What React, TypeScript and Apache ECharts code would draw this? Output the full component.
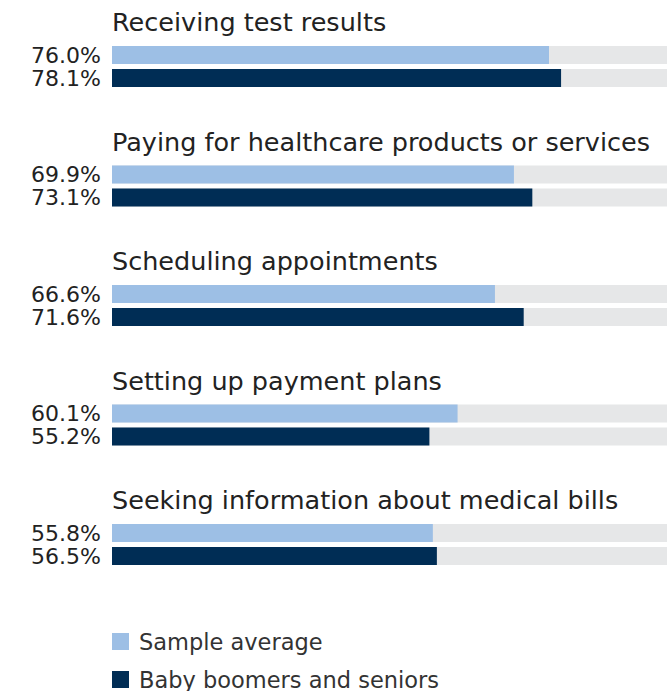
import React, { useEffect, useRef } from "react";
import * as echarts from "echarts";

const categories = [
  "Receiving test results",
  "Paying for healthcare products or services",
  "Scheduling appointments",
  "Setting up payment plans",
  "Seeking information about medical bills",
];
const seriesNames = ["Sample average", "Baby boomers and seniors"];
const sampleAverage = [76.0, 69.9, 66.6, 60.1, 55.8];
const boomers = [78.1, 73.1, 71.6, 55.2, 56.5];

const LIGHT = "#9dbfe5";
const NAVY = "#002d55";
const GRAY = "#e6e7e8";
const TEXT = "#222222";
const FONT = "'DejaVu Sans', sans-serif";

export default function App() {
  const ref = useRef<HTMLDivElement>(null);
  useEffect(() => {
    if (!ref.current) return;
    const chart = echarts.init(ref.current, undefined, { renderer: "svg" });
    const step = 119.5;
    const grids: any[] = [];
    const xAxes: any[] = [];
    const yAxes: any[] = [];
    const series: any[] = [];
    const graphics: any[] = [];
    const label = {
      show: true,
      position: "left",
      distance: 11,
      fontSize: 22,
      lineHeight: 20,
      fontFamily: FONT,
      color: TEXT,
      formatter: (p: any) => Number(p.value).toFixed(1) + "%",
    };
    categories.forEach((cat, i) => {
      grids.push({ left: 112, right: 0, top: 43.5 + step * i, height: 46 });
      xAxes.push({ type: "value", gridIndex: i, min: 0, max: (555 / 575) * 100, show: false });
      yAxes.push({ type: "category", gridIndex: i, inverse: true, show: false, data: seriesNames });
      series.push({
        type: "bar",
        name: "bg",
        xAxisIndex: i,
        yAxisIndex: i,
        barWidth: 18,
        barGap: "-100%",
        silent: true,
        itemStyle: { color: GRAY },
        data: [100, 100],
      });
      series.push({
        type: "bar",
        name: seriesNames[0],
        xAxisIndex: i,
        yAxisIndex: i,
        barWidth: 18,
        barGap: "-100%",
        itemStyle: { color: LIGHT },
        label,
        data: [sampleAverage[i], "-"],
      });
      series.push({
        type: "bar",
        name: seriesNames[1],
        xAxisIndex: i,
        yAxisIndex: i,
        barWidth: 18,
        barGap: "-100%",
        itemStyle: { color: NAVY },
        label,
        data: ["-", boomers[i]],
      });
      graphics.push({
        type: "text",
        x: 112,
        y: 22 + step * i,
        style: {
          text: cat,
          fontSize: 25.5,
          fontFamily: FONT,
          fill: TEXT,
          verticalAlign: "middle",
        },
      });
    });
    const legendText = { fontSize: 22.5, fontFamily: FONT, color: "#333", padding: [0, 0, 0, 5] };
    chart.setOption({
      animation: false,
      grid: grids,
      xAxis: xAxes,
      yAxis: yAxes,
      series,
      graphic: graphics,
      legend: [0, 1].map((k) => ({
        data: [seriesNames[k]],
        left: 112,
        top: 630 + 38 * k,
        padding: 0,
        itemWidth: 17,
        itemHeight: 17,
        icon: "rect",
        selectedMode: false,
        textStyle: legendText,
      })),
    });
    return () => chart.dispose();
  }, []);
  return (
    <div
      ref={ref}
      style={{ position: "absolute", left: 0, top: 0, width: 667, height: 691, background: "#fff" }}
    />
  );
}
